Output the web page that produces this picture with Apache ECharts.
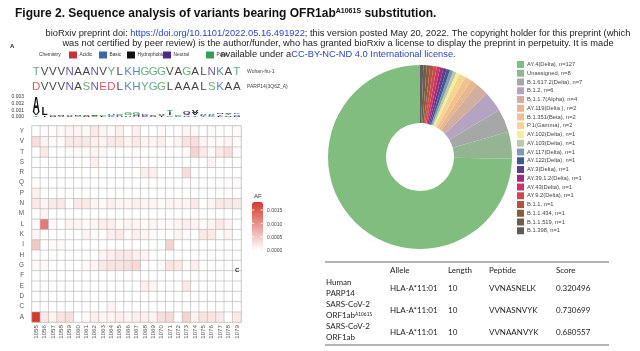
<!DOCTYPE html>
<html>
<head>
<meta charset="utf-8">
<script src="https://cdn.jsdelivr.net/npm/echarts@6/dist/echarts.min.js"></script>
<style>html,body{margin:0;padding:0;background:#fff;}#c{width:640px;height:351px;}</style>
</head>
<body>
<div id="c"></div>
<script>
// ---------- DATA ----------
const positions = ['1055','1056','1057','1058','1059','1060','1061','1062','1063','1064','1065','1066','1067','1068','1069','1070','1071','1072','1073','1074','1075','1076','1077','1078','1079'];
const residues = ['A','C','D','E','F','G','H','I','K','L','M','N','P','Q','R','S','T','V','Y']; // bottom -> top
const seqWuhan = 'TVVVNAANVYLKHGGGVAGALNKAT';
const seqParp = 'DVVVNASNEDLKHYGGLAAALSKAA';
const seqNames = ['PARP14(3Q6Z_A)', 'Wuhan-hu-1'];
// allele frequency, in units of 1e-4, one row per residue (same order as residues)
const afA = [18,2,1,2.5,3,0,0.5,1.5,1,1,1.5,1,1.5,1.5,1,3,3.5,0,4,1,2.5,2.5,2,0,2];
const afC = [0,0,0,0,0,0,0,0,0,1,0,0,0,0,0,0,0,0,0,0,0,0,0,0,0];
const afD = [0,0,0,0,0,0,0,0,0,0,0,0,0,0,0,0,0,0,0,0,0,0,0,0,0];
const afE = [0,0,0,0,0,0,0,0,0,0,0,0,0,1.5,1,0,0,0,2,0,0,0,0,0,0];
const afF = [0,0,0,0,0,0,0,0,0,0,0,0,0,0,0,0,0,0,0,0,0,0,0,0,0];
const afG = [0.5,0.5,0,0,0,0,0.5,1,2,2.5,2.5,3,3.5,0,0,0.5,2.5,2,0.5,1.5,0,0,0,0,0];
const afH = [0,0,0,0,0,0,0,0,1,1.5,2,2,1.5,1,0,0,0,0,0,0,0,0,0,0,0];
const afI = [5,0,0.5,0.5,0,0,0,0,0,0,0,0,0,0,0,0,4,0,0,0,0,0,0,0,0];
const afK = [1,0,0,0,0,0,1,0.5,0,1.5,2,0.5,1.5,1,0.5,0,0,1,0.5,0,2,2,0.5,1,0];
const afL = [0.5,12,0.5,0,1,1,0.5,1,1.5,1.5,0.5,1,1,0.5,1,0.5,0.5,1,1.5,1,0.5,1,2,1,0];
const afM = [0,1,0,0,0,0,0,0,0,0,0,0,0,0,0,0,0,0,0,0,0,0,0,0,0];
const afN = [2,1,2,2,0,2,2,1,0.5,1.5,1,1,1.5,1,1,0.5,1,1,1,2,0,1,2,2,2];
const afP = [1.5,0,0,0,0,0,0,0,0,0,0,0,0,0,0,0,0,0,0,0,0,0,0,0,0];
const afQ = [0,0,0,0,0,0,0,0,0,0,0,0,0,0,0,0,0,0,0,0,0,0,0,0,0.5];
const afR = [0,0,0,0,0,0,0,0,0,0,0,0,0,1.5,1.5,0,0,0,3,0,0,0,0,0,0];
const afS = [0,0,0,0,0,0,0,1.5,0,0,0,0,0.5,0,0,0,0,0,0,0,0,1,0,0,0];
const afT = [0,2,0,0,0.5,0.5,0.5,1,0.5,0,0,0,0.5,0,0,0,0,0,0.5,4,2,0.5,2,3,0.5];
const afV = [3,1,0.5,0.5,2,2,2,1.5,1,2,2,1,2,1,1,1.5,0,1,2.5,3,1,0.5,0.5,1,0.5];
const afY = [0,0.5,0,0.5,1,1,0.5,2,1,0.5,1.5,0,1.5,0,0,0.5,0,0,1,0.5,0,0.5,0,0,0.5];
const afRows = [afA,afC,afD,afE,afF,afG,afH,afI,afK,afL,afM,afN,afP,afQ,afR,afS,afT,afV,afY];
const afMax = 0.0018;
const afTicks = [0, 0.0005, 0.0010, 0.0015];
// sequence logo: letters bottom->top and heights (units 1e-4)
const logoLetters = ['TVA','IL','NA','AN','VA','GN','NV','SGV','LG','KGH','HKG','HG','HNG','ERK','RE','IVA','GIT','KG','RVQ','TVV','TKA','GKA','LTN','NTV','NAK'];
const logoHeights = [[2,3,24],[2,12],[2,2],[2,2],[2,2],[1.5,2],[1.5,2],[1,1,2],[1.5,2.5],[1,2,1.5],[1.5,1.5,2.5],[2,3],[1,1.5,3],[1,1.5,1],[1.5,1],[1,1.5,2.5],[2,3,4],[1,2],[2,2.5,3.5],[2,3,3],[1.5,2,2],[1,2,2],[2,2,2],[2,2.5,1],[2,2,1]];
const logoTicks = [0, 0.001, 0.002, 0.003];
// lineages
const lineageNames = ['AY.4(Delta), n=127','Unassigned, n=8','B.1.617.2(Delta), n=7','B.1.2, n=6','B.1.1.7(Alpha), n=4','AY.119(Delta ), n=2','B.1.351(Beta), n=2','P.1(Gamma), n=2','AY.102(Delta), n=1','AY.103(Delta), n=1','AY.117(Delta), n=1','AY.122(Delta), n=1','AY.3(Delta), n=1','AY.39.1.2(Delta), n=1','AY.43(Delta), n=1','AY.9.2(Delta), n=1','B.1.1, n=1','B.1.1.434, n=1','B.1.1.519, n=1','B.1.398, n=1'];
const lineageCounts = [127,8,7,6,4,2,2,2,1,1,1,1,1,1,1,1,1,1,1,1];
const lineageColors = ['#80bd7e','#93b591','#a6a8a8','#b4a4c2','#d2ae9f','#e6b68c','#f1c08e','#f3d68f','#f3ef9d','#bccaa5','#7f9ab3','#3e5a95','#5c3e8c','#a12a7c','#cd3467','#cb4a4b','#b2533c','#8c5b3c','#6f5c4d','#5d5d5d'];
// table C
const tableHeader = ['Allele','Length','Peptide','Score'];
const tableRows = [
  ['Human','PARP14','','HLA-A*11:01','10','VVNASNELK','0.320496'],
  ['SARS-CoV-2','ORF1ab','A1061S','HLA-A*11:01','10','VVNASNVYK','0.730699'],
  ['SARS-CoV-2','ORF1ab','','HLA-A*11:01','10','VVNAANVYK','0.680557']
];
const chemNames = ['Acidic','Basic','Hydrophobic','Neutral','Polar'];
const chemColors = ['#c8323c','#3a68a8','#111111','#4c2a86','#3f9a5a'];
const chemOf = {D:0,E:0,K:1,R:1,H:1,A:2,V:2,L:2,I:2,P:2,W:2,F:2,M:2,Q:3,N:3,G:4,S:4,T:4,Y:4,C:4};

// ---------- BUILD ----------
const SANS = 'Liberation Sans';
const heatData = [];
afRows.forEach((row, r) => row.forEach((v, c) => heatData.push([c, r, v / 1e4])));

const seqData = [];
[seqParp, seqWuhan].forEach((s, r) => s.split('').forEach((ch, c) => {
  seqData.push({name: ch, value: [c, r], label: {color: chemColors[chemOf[ch]]}});
}));

const logoItems = [];
logoLetters.forEach((letters, c) => {
  let acc = 0;
  letters.split('').forEach((ch, k) => {
    const h = logoHeights[c][k] / 1e4;
    logoItems.push({letter: ch, value: [c, acc, acc + h]});
    acc += h;
  });
});

const G = {left: 32, width: 209};
const heatGrid = {top: 126, height: 196};
const vm = {left: 252, top: 202, w: 11, h: 48};

const graphics = [];
function txt(x, y, text, size, opts) {
  opts = opts || {};
  graphics.push({type: 'text', x: x, y: y, silent: true, z: 10,
    style: Object.assign({text: text, fontSize: size, fontFamily: opts.family || SANS, fontWeight: opts.weight || 'normal',
      fill: opts.fill || '#222', align: opts.align || 'left', textAlign: opts.align || 'left',
      verticalAlign: 'middle', textVerticalAlign: 'middle'}, opts.rich ? {rich: opts.rich} : {})});
}
// title
txt(15, 14, '{a|Figure 2. Sequence analysis of variants bearing OFR1ab}{s|A1061S}{a| substitution.}', 12, {
  weight: 'bold', rich: {a: {fontSize: 12, fontWeight: 'bold', fontFamily: SANS, fill: '#111'}, s: {fontSize: 7, fontWeight: 'bold', fontFamily: SANS, fill: '#111', verticalAlign: 'top'}}});
// bioRxiv banner
txt(338, 33, 'bioRxiv preprint doi: {l|https://doi.org/10.1101/2022.05.16.491922}; this version posted May 20, 2022. The copyright holder for this preprint (which', 9.3, {align: 'center', rich: {l: {fill: '#2b47b8', fontSize: 9.3, fontFamily: SANS}}});
txt(338, 43.5, 'was not certified by peer review) is the author/funder, who has granted bioRxiv a license to display the preprint in perpetuity. It is made', 9.3, {align: 'center'});
// chemistry legend
txt(10, 46, 'A', 6, {weight: 'bold'});
txt(39, 55, 'Chemistry', 4.8, {fill: '#333'});
const chemX = [69, 99, 127, 163, 206];
chemNames.forEach((n, i) => {
  graphics.push({type: 'rect', silent: true, z: 9, shape: {x: chemX[i], y: 51.5, width: 8, height: 7}, style: {fill: chemColors[i]}});
  txt(chemX[i] + 10.5, 55, n, 4.8, {fill: '#333'});
});
txt(338, 54.5, 'available under a{l|CC-BY-NC-ND 4.0 International license.}', 9.3, {align: 'center', rich: {l: {fill: '#2b47b8', fontSize: 9.3, fontFamily: SANS}}});
// AF colour legend
txt(vm.left + 2, vm.top - 6, 'AF', 6, {fill: '#333'});
afTicks.forEach(t => {
  const y = vm.top + vm.h - t / afMax * vm.h;
  txt(vm.left + vm.w + 4, y + 1, t.toFixed(4), 5, {fill: '#444'});
  if (t > 0) {
    graphics.push({type: 'line', silent: true, z: 12, shape: {x1: vm.left, y1: y, x2: vm.left + 2.5, y2: y}, style: {stroke: '#fff', lineWidth: 0.8}});
    graphics.push({type: 'line', silent: true, z: 12, shape: {x1: vm.left + vm.w - 2.5, y1: y, x2: vm.left + vm.w, y2: y}, style: {stroke: '#fff', lineWidth: 0.8}});
  }
});
// table C
txt(235, 270, 'C', 6, {weight: 'bold'});
const TF = 'Lato';
const TS = 8;
const colX = [326, 390, 448, 489, 556];
graphics.push({type: 'line', silent: true, shape: {x1: 325, y1: 262, x2: 609, y2: 262}, style: {stroke: '#666', lineWidth: 1}});
graphics.push({type: 'line', silent: true, shape: {x1: 325, y1: 345, x2: 609, y2: 345}, style: {stroke: '#666', lineWidth: 1}});
tableHeader.forEach((h, i) => txt(colX[i + 1], 270, h, TS, {family: TF}));
const rowY = [288, 310, 332];
tableRows.forEach((r, i) => {
  const y = rowY[i];
  txt(colX[0], y - 5.5, r[0], TS, {family: TF});
  txt(colX[0], y + 5.5, '{a|' + r[1] + '}' + (r[2] ? '{s|' + r[2] + '}' : ''), TS, {family: TF,
    rich: {a: {fontSize: TS, fontFamily: TF, fill: '#222'}, s: {fontSize: 4.8, fontFamily: TF, fill: '#222', verticalAlign: 'top'}}});
  for (let k = 3; k < 7; k++) txt(colX[k - 2], y, r[k], TS, {family: TF});
});

const option = {
  animation: false,
  backgroundColor: '#fff',
  grid: [
    {left: G.left, width: G.width, top: heatGrid.top, height: heatGrid.height, show: true, borderColor: '#b5b5b5', borderWidth: 0.6},
    {left: G.left, width: G.width, top: 97, height: 20},
    {left: G.left, width: G.width, top: 64, height: 30}
  ],
  xAxis: [
    {type: 'category', gridIndex: 0, data: positions, axisLine: {show: false}, axisTick: {show: false}, splitLine: {show: false},
      axisLabel: {rotate: 90, fontSize: 6.2, color: '#555', margin: 3, fontFamily: SANS, interval: 0}},
    {type: 'category', gridIndex: 1, data: positions, show: false},
    {type: 'category', gridIndex: 2, data: positions, show: false}
  ],
  yAxis: [
    {type: 'category', gridIndex: 0, data: residues, axisLine: {show: false}, axisTick: {show: false},
      axisLabel: {fontSize: 6.3, color: '#555', margin: 8, fontFamily: SANS, interval: 0}},
    {type: 'value', gridIndex: 1, min: 0, max: 0.003, interval: 0.001, splitLine: {show: false}, axisLine: {show: false}, axisTick: {show: false},
      axisLabel: {fontSize: 5, color: '#333', margin: 8, fontFamily: SANS, formatter: v => v.toFixed(3)}},
    {type: 'category', gridIndex: 2, data: seqNames, position: 'right', axisLine: {show: false}, axisTick: {show: false},
      axisLabel: {fontSize: 5, color: '#444', margin: 6, fontFamily: SANS}}
  ],
  visualMap: {
    type: 'continuous', seriesIndex: 0, dimension: 2, min: 0, max: afMax, calculable: false,
    left: vm.left, top: vm.top, itemWidth: vm.w, itemHeight: vm.h, orient: 'vertical', padding: 0,
    inRange: {color: ['#ffffff', '#d5392b']}, textStyle: {fontSize: 5}
  },
  legend: {
    orient: 'vertical', left: 517, top: 61, itemWidth: 7, itemHeight: 7, itemGap: 1.75, icon: 'rect',
    padding: 0, textStyle: {fontSize: 5.8, color: '#444', fontFamily: SANS, padding: [0, 0, 0, -2]}, selectedMode: false, data: lineageNames
  },
  series: [
    {type: 'heatmap', xAxisIndex: 0, yAxisIndex: 0, data: heatData, silent: true,
      itemStyle: {borderColor: '#b5b5b5', borderWidth: 0.6}},
    {type: 'custom', xAxisIndex: 1, yAxisIndex: 1, silent: true, data: logoItems.map(d => d.value),
      renderItem: function (params, api) {
        const it = logoItems[params.dataIndex];
        const p0 = api.coord([api.value(0), api.value(1)]);
        const p1 = api.coord([api.value(0), api.value(2)]);
        const w = api.size([1, 0])[0] * 0.85;
        const h = Math.max(p0[1] - p1[1], 0.3);
        return {type: 'text', x: p0[0], y: (p0[1] + p1[1]) / 2, scaleX: w / 7, scaleY: h / 7.2,
          style: {text: it.letter, fontSize: 10, fontFamily: SANS, fontWeight: 'bold', fill: chemColors[chemOf[it.letter]],
            align: 'center', verticalAlign: 'middle', textAlign: 'center', textVerticalAlign: 'middle'}};
      }},
    {type: 'scatter', xAxisIndex: 2, yAxisIndex: 2, symbolSize: 0, silent: true, data: seqData,
      label: {show: true, position: 'inside', formatter: '{b}', fontSize: 11.5, fontFamily: SANS}},
    {type: 'pie', center: [420, 157], radius: [34, 92], startAngle: 90, clockwise: false, silent: true,
      label: {show: false}, labelLine: {show: false},
      data: lineageNames.map((n, i) => ({name: n, value: lineageCounts[i], itemStyle: {color: lineageColors[i]}}))}
  ],
  graphic: graphics
};
const chart = echarts.init(document.getElementById('c'), null, {renderer: 'canvas'});
chart.setOption(option);
</script>
</body>
</html>
